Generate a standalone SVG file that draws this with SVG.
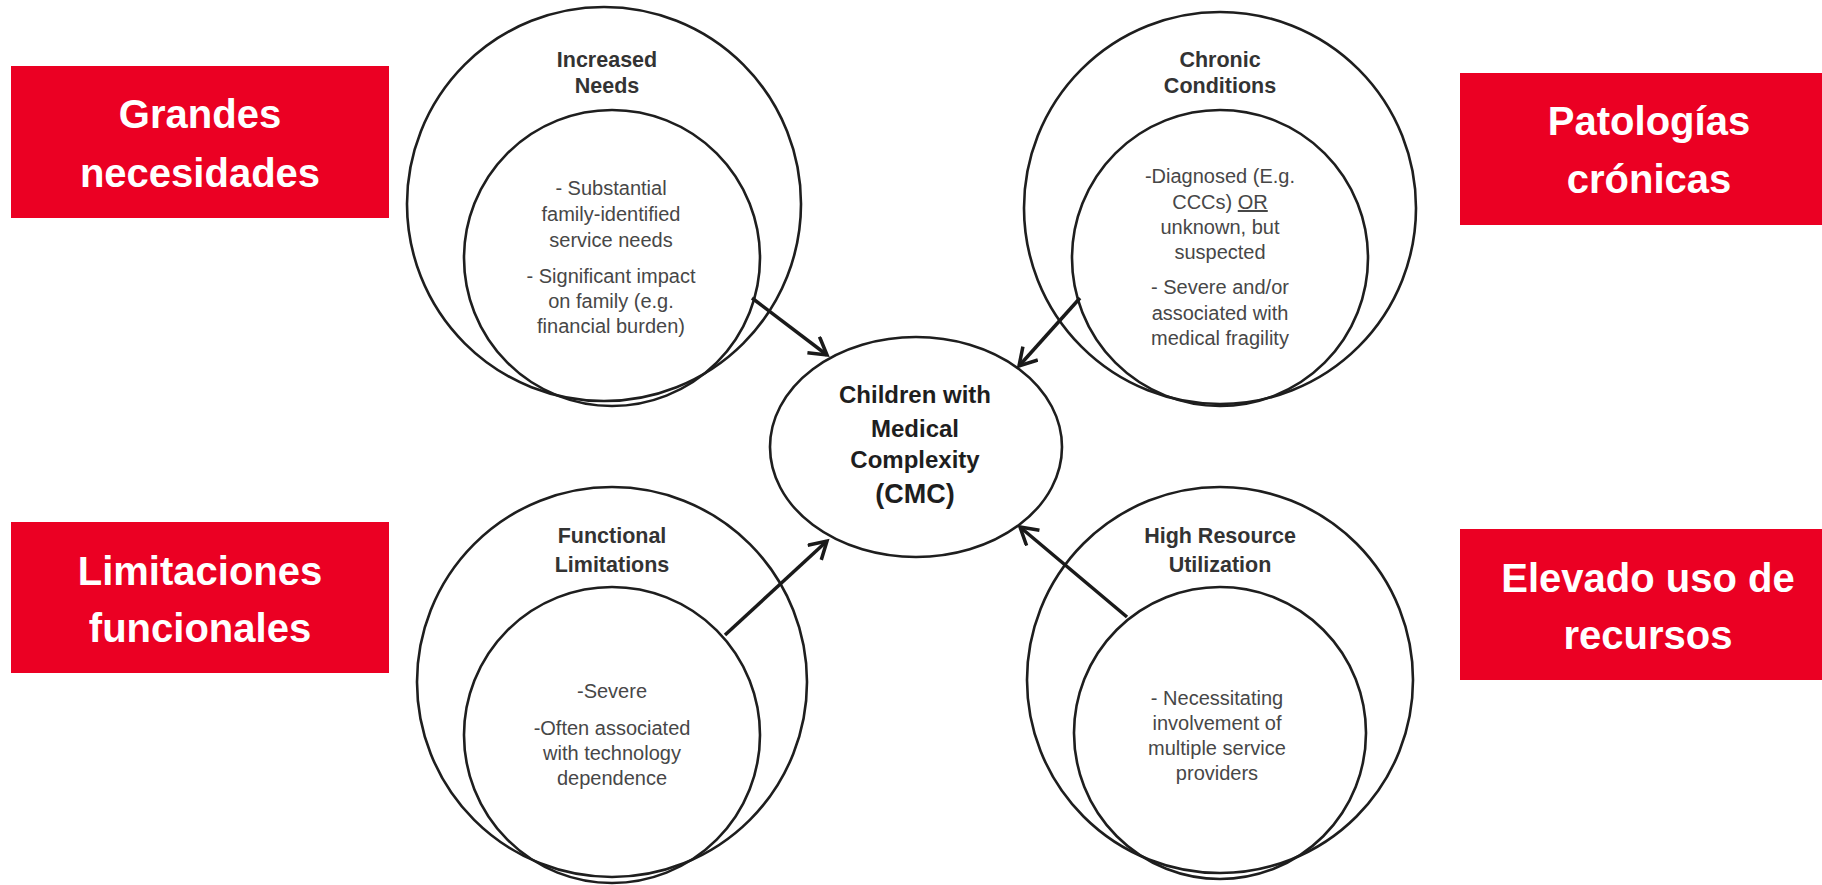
<svg xmlns="http://www.w3.org/2000/svg" width="1822" height="885" viewBox="0 0 1822 885">
<style>
.bg{fill:#ffffff}
.lab rect{fill:#EB0023}
.lab text{font-family:"Liberation Sans",Arial,sans-serif;font-weight:bold;font-size:40px;fill:#ffffff;text-anchor:middle}
.ring{fill:none;stroke:#1e1e1e;stroke-width:2.6}
.title{font-family:"Liberation Sans",Arial,sans-serif;font-weight:bold;font-size:21.5px;fill:#333333;text-anchor:middle}
.body{font-family:"Liberation Sans",Arial,sans-serif;font-size:20px;fill:#474747;text-anchor:middle}
.cmc{font-family:"Liberation Sans",Arial,sans-serif;font-weight:bold;font-size:24px;fill:#1e1e1e;text-anchor:middle}
.conn line{stroke:#1a1a1a;stroke-width:3.5;marker-end:url(#arr)}
</style>
<defs>
<marker id="arr" markerUnits="userSpaceOnUse" markerWidth="24" markerHeight="24" refX="19" refY="11" orient="auto">
<path d="M2,1 L19,11 L2,21" fill="none" stroke="#1a1a1a" stroke-width="3.5" stroke-linejoin="miter"/>
</marker>
</defs>
<rect class="bg" x="0" y="0" width="1822" height="885"/>

<g id="label-grandes" class="lab">
<rect x="11" y="66" width="378" height="152"/>
<text x="200" y="128">Grandes</text>
<text x="200" y="187">necesidades</text>
</g>
<g id="label-patologias" class="lab">
<rect x="1460" y="73" width="362" height="152"/>
<text x="1649" y="135">Patologías</text>
<text x="1649" y="193">crónicas</text>
</g>
<g id="label-limitaciones" class="lab">
<rect x="11" y="522" width="378" height="151"/>
<text x="200" y="585">Limitaciones</text>
<text x="200" y="642">funcionales</text>
</g>
<g id="label-elevado" class="lab">
<rect x="1460" y="529" width="362" height="151"/>
<text x="1648" y="592">Elevado uso de</text>
<text x="1648" y="649">recursos</text>
</g>

<g id="node-increased-needs">
<circle class="ring" cx="604" cy="204" r="197"/>
<circle class="ring" cx="612" cy="258" r="148"/>
<text class="title" x="607" y="67">Increased</text>
<text class="title" x="607" y="93">Needs</text>
<text class="body" x="611" y="195">- Substantial</text>
<text class="body" x="611" y="221">family-identified</text>
<text class="body" x="611" y="247">service needs</text>
<text class="body" x="611" y="283">- Significant impact</text>
<text class="body" x="611" y="308">on family (e.g.</text>
<text class="body" x="611" y="333">financial burden)</text>
</g>

<g id="node-chronic-conditions">
<circle class="ring" cx="1220" cy="208" r="196"/>
<circle class="ring" cx="1220" cy="258" r="148"/>
<text class="title" x="1220" y="67">Chronic</text>
<text class="title" x="1220" y="93">Conditions</text>
<text class="body" x="1220" y="183">-Diagnosed (E.g.</text>
<text class="body" x="1220" y="209">CCCs) <tspan text-decoration="underline">OR</tspan></text>
<text class="body" x="1220" y="234">unknown, but</text>
<text class="body" x="1220" y="259">suspected</text>
<text class="body" x="1220" y="294">- Severe and/or</text>
<text class="body" x="1220" y="320">associated with</text>
<text class="body" x="1220" y="345">medical fragility</text>
</g>

<g id="node-functional-limitations">
<circle class="ring" cx="612" cy="682" r="195"/>
<circle class="ring" cx="612" cy="735" r="148"/>
<text class="title" x="612" y="543">Functional</text>
<text class="title" x="612" y="572">Limitations</text>
<text class="body" x="612" y="698">-Severe</text>
<text class="body" x="612" y="735">-Often associated</text>
<text class="body" x="612" y="760">with technology</text>
<text class="body" x="612" y="785">dependence</text>
</g>

<g id="node-high-resource">
<circle class="ring" cx="1220" cy="680" r="193"/>
<circle class="ring" cx="1220" cy="733" r="146"/>
<text class="title" x="1220" y="543">High Resource</text>
<text class="title" x="1220" y="572">Utilization</text>
<text class="body" x="1217" y="705">- Necessitating</text>
<text class="body" x="1217" y="730">involvement of</text>
<text class="body" x="1217" y="755">multiple service</text>
<text class="body" x="1217" y="780">providers</text>
</g>

<g id="node-cmc">
<ellipse class="ring" cx="916" cy="447" rx="146" ry="110"/>
<text class="cmc" x="915" y="403">Children with</text>
<text class="cmc" x="915" y="437">Medical</text>
<text class="cmc" x="915" y="468">Complexity</text>
<text class="cmc" x="915" y="503" style="font-size:27px">(CMC)</text>
</g>

<g id="connectors" class="conn">
<line x1="752" y1="298" x2="827" y2="355"/>
<line x1="1080" y1="298" x2="1019" y2="366"/>
<line x1="725" y1="635" x2="827" y2="541"/>
<line x1="1127" y1="617" x2="1020" y2="527"/>
</g>
</svg>
